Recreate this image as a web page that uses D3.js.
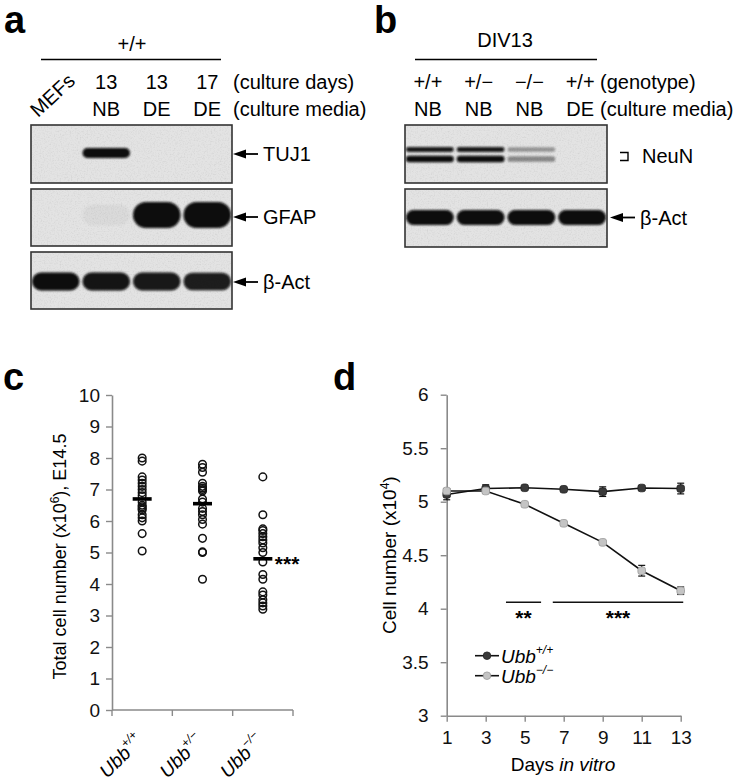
<!DOCTYPE html>
<html>
<head>
<meta charset="utf-8">
<script src="https://cdn.jsdelivr.net/npm/d3@7"></script>
<style>
  body { margin: 0; background: #fff; }
  svg { display: block; }
</style>
</head>
<body>
<script>
// ---- data ----
// panel a: western blot, band intensity per lane (0 = none, 1 = full)
const cultureDaysA = ["", "13", "13", "17"];
const cultureMediaA = ["", "NB", "DE", "DE"];
const tuj1 = [0, 1, 0, 0];
const gfap = [0, 0.04, 1, 1];
const actinA = [1, 0.97, 0.95, 0.93];

// panel b
const genotypeB = ["+/+", "+/\u2212", "\u2212/\u2212", "+/+"];
const mediaB = ["NB", "NB", "NB", "DE"];
const neunUpper = [0.95, 0.95, 0.35, 0];
const neunLower = [1, 1, 0.4, 0];
const actinB = [1, 1, 1, 1];

// panel c: total cell number (x10^6), E14.5
const genotypesC = ["+/+", "+/\u2212", "\u2212/\u2212"];
const cellsWT = [8.0, 7.9, 7.4, 7.3, 7.2, 7.1, 7.0, 6.9, 6.8, 6.6, 6.5, 6.45, 6.4, 6.35, 6.2, 6.1, 6.0, 5.6, 5.05];
const cellsHet = [7.8, 7.7, 7.55, 7.2, 7.1, 7.05, 7.0, 6.95, 6.7, 6.6, 6.4, 6.3, 6.2, 6.05, 5.9, 5.45, 5.02, 5.0, 4.15];
const cellsKO = [7.4, 6.2, 5.75, 5.7, 5.6, 5.5, 5.4, 5.3, 5.15, 5.0, 4.7, 4.3, 4.15, 3.75, 3.65, 3.5, 3.4, 3.3, 3.2];
const meansC = [6.7, 6.55, 4.8];
const yTicksC = [0, 1, 2, 3, 4, 5, 6, 7, 8, 9, 10];

// panel d: cell number (x10^4) over days in vitro
const days = [1, 3, 5, 7, 9, 11, 13];
const wtMean = [5.068, 5.123, 5.13, 5.116, 5.094, 5.128, 5.123];
const wtErr = [0.05, 0.035, 0.01, 0.01, 0.045, 0.02, 0.05];
const koMean = [5.10, 5.10, 4.976, 4.798, 4.62, 4.355, 4.168];
const koErr = [0.02, 0.02, 0.01, 0.015, 0.015, 0.05, 0.035];
const yTicksD = [3, 3.5, 4, 4.5, 5, 5.5, 6];
const sigD = [
  { from: 4.04, to: 5.84, label: "**" },
  { from: 6.44, to: 13.13, label: "***" }
];
const sigLevelD = 4.06;

// ---- drawing ----
const FONT = "'Liberation Sans', Arial, Helvetica, sans-serif";
const W = 747, H = 781;
const LBL = '20px';   // blot labels
const TICK = '19px';

const svg = d3.select('body').append('svg')
  .attr('width', W)
  .attr('height', H)
  .style('font-family', FONT);

svg.append('rect').attr('width', W).attr('height', H).attr('fill', '#fff');

const defs = svg.append('defs');
defs.append('filter').attr('id', 'blur')
  .attr('x', '-20%').attr('y', '-60%').attr('width', '140%').attr('height', '220%')
  .append('feGaussianBlur').attr('stdDeviation', 1.1);

const grain = defs.append('filter').attr('id', 'grain')
  .attr('x', 0).attr('y', 0).attr('width', '100%').attr('height', '100%');
grain.append('feTurbulence')
  .attr('type', 'fractalNoise').attr('baseFrequency', 0.7)
  .attr('numOctaves', 2).attr('seed', 4);
grain.append('feColorMatrix').attr('type', 'matrix')
  .attr('values', '0 0 0 0 0.45  0 0 0 0 0.45  0 0 0 0 0.45  0 0 0 -1.4 0.75');

// panel letters
[["a", 4, 33], ["b", 374, 33], ["c", 3, 390], ["d", 333, 390]].forEach(([t, x, y]) => {
  svg.append('text').attr('x', x).attr('y', y)
    .style('font-size', '38px').style('font-weight', 'bold')
    .text(t);
});

function drawBlot(g, x, w, y, h, rows) {
  const lanes = d3.scaleBand().domain(d3.range(4)).range([x, x + w]).paddingInner(0.02);
  g.append('rect').attr('x', x).attr('y', y).attr('width', w).attr('height', h)
    .attr('fill', '#e3e3e3');
  g.append('rect').attr('x', x).attr('y', y).attr('width', w).attr('height', h)
    .attr('filter', 'url(#grain)').attr('opacity', 0.5);
  rows.forEach(r => {
    g.append('g').attr('filter', 'url(#blur)')
      .selectAll('rect')
      .data(r.values.map((v, i) => ({ v, i })).filter(d => d.v > 0))
      .join('rect')
      .attr('x', d => lanes(d.i) + 1)
      .attr('width', lanes.bandwidth() - 2)
      .attr('y', d => r.cy - r.thick * (0.8 + 0.2 * d.v) / 2)
      .attr('height', d => r.thick * (0.8 + 0.2 * d.v))
      .attr('rx', d => r.thick * (0.8 + 0.2 * d.v) / 2)
      .attr('fill', '#080808')
      .attr('opacity', d => d.v);
  });
  g.append('rect').attr('x', x).attr('y', y).attr('width', w).attr('height', h)
    .attr('fill', 'none').attr('stroke', '#333').attr('stroke-width', 1.6);
  return lanes;
}

function arrowLabel(g, x, y, label) {
  g.append('line').attr('x1', x + 8).attr('x2', x + 25).attr('y1', y).attr('y2', y)
    .attr('stroke', '#000').attr('stroke-width', 1.8);
  g.append('path').attr('d', `M${x},${y}L${x + 13},${y - 4.5}L${x + 13},${y + 4.5}Z`).attr('fill', '#000');
  g.append('text').attr('x', x + 30).attr('y', y + 7)
    .style('font-size', LBL).text(label);
}

// ---- panel a ----
const gA = svg.append('g');
gA.append('text').attr('x', 132).attr('y', 51).attr('text-anchor', 'middle')
  .style('font-size', LBL).text('+/+');
gA.append('line').attr('x1', 41).attr('x2', 221).attr('y1', 59.5).attr('y2', 59.5)
  .attr('stroke', '#000').attr('stroke-width', 1.6);

const lanesA = drawBlot(gA, 31, 201, 125, 58, [{ values: tuj1, cy: 153, thick: 10 }]);
drawBlot(gA, 31, 201, 189, 57, [{ values: gfap, cy: 215, thick: 26 }]);
drawBlot(gA, 31, 201, 252, 57, [{ values: actinA, cy: 281.5, thick: 18 }]);

gA.selectAll('.days').data(cultureDaysA).join('text')
  .attr('x', (d, i) => lanesA(i) + lanesA.bandwidth() / 2)
  .attr('y', 89).attr('text-anchor', 'middle')
  .style('font-size', LBL).text(d => d);
gA.selectAll('.media').data(cultureMediaA).join('text')
  .attr('x', (d, i) => lanesA(i) + lanesA.bandwidth() / 2)
  .attr('y', 116).attr('text-anchor', 'middle')
  .style('font-size', LBL).text(d => d);
gA.append('text').attr('transform', 'translate(38,118) rotate(-43)')
  .style('font-size', LBL).text('MEFs');
gA.append('text').attr('x', 233).attr('y', 89).style('font-size', LBL).text('(culture days)');
gA.append('text').attr('x', 233).attr('y', 116).style('font-size', LBL).text('(culture media)');

arrowLabel(gA, 233, 154, 'TUJ1');
arrowLabel(gA, 233, 217, 'GFAP');
arrowLabel(gA, 233, 282, '\u03b2-Act');

// ---- panel b ----
const gB = svg.append('g');
gB.append('text').attr('x', 505).attr('y', 47).attr('text-anchor', 'middle')
  .style('font-size', LBL).text('DIV13');
gB.append('line').attr('x1', 415).attr('x2', 597).attr('y1', 59.5).attr('y2', 59.5)
  .attr('stroke', '#000').attr('stroke-width', 1.6);

const lanesB = drawBlot(gB, 405, 202, 125, 58, [
  { values: neunUpper, cy: 149.5, thick: 5 },
  { values: neunLower, cy: 159, thick: 6.5 }
]);
drawBlot(gB, 405, 202, 189, 58, [{ values: actinB, cy: 217.5, thick: 15 }]);

gB.selectAll('.geno').data(genotypeB).join('text')
  .attr('x', (d, i) => lanesB(i) + lanesB.bandwidth() / 2 - 2)
  .attr('y', 89).attr('text-anchor', 'middle')
  .style('font-size', LBL).text(d => d);
gB.selectAll('.mediaB').data(mediaB).join('text')
  .attr('x', (d, i) => lanesB(i) + lanesB.bandwidth() / 2 - 2)
  .attr('y', 116).attr('text-anchor', 'middle')
  .style('font-size', LBL).text(d => d);
gB.append('text').attr('x', 600).attr('y', 89).style('font-size', LBL).text('(genotype)');
gB.append('text').attr('x', 600).attr('y', 116).style('font-size', LBL).text('(culture media)');

gB.append('path').attr('d', 'M620,152.5H628V160.5H620')
  .attr('fill', 'none').attr('stroke', '#000').attr('stroke-width', 1.4);
gB.append('text').attr('x', 642).attr('y', 163).style('font-size', LBL).text('NeuN');
arrowLabel(gB, 610, 217.5, '\u03b2-Act');

// ---- panel c ----
const gC = svg.append('g');
const xC = d3.scaleBand().domain(genotypesC).range([112, 293]);
const yC = d3.scaleLinear().domain([0, 10]).range([710, 395]);
const axisGray = '#8a8a8a';

const yAxisC = gC.append('g').attr('transform', 'translate(112,0)')
  .call(d3.axisLeft(yC).tickValues(yTicksC).tickSize(6).tickPadding(6).tickSizeOuter(0));
yAxisC.select('.domain').attr('stroke', axisGray).attr('stroke-width', 1.6);
yAxisC.selectAll('.tick line').attr('stroke', axisGray).attr('stroke-width', 1.4);
yAxisC.selectAll('.tick text').style('font-size', TICK).style('font-family', FONT).attr('fill', '#111');

gC.append('line').attr('x1', 112).attr('x2', 293).attr('y1', 710).attr('y2', 710)
  .attr('stroke', axisGray).attr('stroke-width', 1.6);
gC.selectAll('.xtick').data([...genotypesC.map(g => xC(g)), 293]).join('line')
  .attr('x1', d => d).attr('x2', d => d).attr('y1', 710).attr('y2', 716)
  .attr('stroke', axisGray).attr('stroke-width', 1.4);

const labelC = gC.selectAll('.xlab').data(genotypesC).join('text')
  .attr('transform', d => `translate(${xC(d) + xC.bandwidth() / 2 + 2},742) rotate(-45)`)
  .attr('text-anchor', 'end')
  .style('font-size', TICK);
labelC.append('tspan').style('font-style', 'italic').text('Ubb');
labelC.append('tspan').attr('dy', -9).style('font-size', '12px').style('font-style', 'italic').text(d => d);

gC.append('text')
  .attr('transform', `translate(66,${(yC(0) + yC(10)) / 2 + 4}) rotate(-90)`)
  .attr('text-anchor', 'middle').style('font-size', '18px')
  .call(t => {
    t.append('tspan').text('Total cell number (x10');
    t.append('tspan').attr('dy', -7).style('font-size', '12px').text('6');
    t.append('tspan').attr('dy', 7).text('), E14.5');
  });

const groupsC = [cellsWT, cellsHet, cellsKO];
groupsC.forEach((vals, gi) => {
  const cx = xC(genotypesC[gi]) + xC.bandwidth() / 2;
  gC.append('g').selectAll('circle').data(vals).join('circle')
    .attr('cx', cx).attr('cy', d => yC(d)).attr('r', 3.8)
    .attr('fill', 'none').attr('stroke', '#111').attr('stroke-width', 1.5);
});
gC.selectAll('.mean').data(meansC).join('line')
  .attr('x1', (d, i) => xC(genotypesC[i]) + xC.bandwidth() / 2 - 9.5)
  .attr('x2', (d, i) => xC(genotypesC[i]) + xC.bandwidth() / 2 + 9.5)
  .attr('y1', d => yC(d)).attr('y2', d => yC(d))
  .attr('stroke', '#000').attr('stroke-width', 3.6);
gC.append('text')
  .attr('x', xC(genotypesC[2]) + xC.bandwidth() / 2 + 12)
  .attr('y', yC(meansC[2]) + 12)
  .style('font-size', '21px').style('font-weight', 'bold').text('***');

// ---- panel d ----
const gD = svg.append('g');
const xD = d3.scaleLinear().domain([1, 13]).range([446.7, 680.7]);
const yD = d3.scaleLinear().domain([3, 6]).range([715.7, 394.7]);

const yAxisD = gD.append('g').attr('transform', 'translate(446.7,0)')
  .call(d3.axisLeft(yD).tickValues(yTicksD).tickSize(6).tickPadding(12).tickSizeOuter(0).tickFormat(d3.format('~g')));
const xAxisD = gD.append('g').attr('transform', 'translate(0,715.7)')
  .call(d3.axisBottom(xD).tickValues(days).tickSize(6).tickPadding(9).tickSizeOuter(0).tickFormat(d3.format('d')));
[yAxisD, xAxisD].forEach(ax => {
  ax.select('.domain').attr('stroke', axisGray).attr('stroke-width', 1.6);
  ax.selectAll('.tick line').attr('stroke', axisGray).attr('stroke-width', 1.4);
  ax.selectAll('.tick text').style('font-size', TICK).style('font-family', FONT).attr('fill', '#111');
});

gD.append('text')
  .attr('transform', `translate(396,${(yD(3) + yD(6)) / 2}) rotate(-90)`)
  .attr('text-anchor', 'middle').style('font-size', '19px')
  .call(t => {
    t.append('tspan').text('Cell number (x10');
    t.append('tspan').attr('dy', -7).style('font-size', '12px').text('4');
    t.append('tspan').attr('dy', 7).text(')');
  });
gD.append('text').attr('x', 563).attr('y', 771).attr('text-anchor', 'middle')
  .style('font-size', '19px')
  .call(t => {
    t.append('tspan').text('Days ');
    t.append('tspan').style('font-style', 'italic').text('in vitro');
  });

const lineD = d3.line().x(d => xD(d.day)).y(d => yD(d.mean));
const seriesD = [
  { key: '+/+', rows: days.map((day, i) => ({ day, mean: wtMean[i], err: wtErr[i] })), fill: '#3a3a3a', stroke: '#222' },
  { key: '\u2212/\u2212', rows: days.map((day, i) => ({ day, mean: koMean[i], err: koErr[i] })), fill: '#c4c4c4', stroke: '#9a9a9a' }
];

seriesD.forEach(s => {
  gD.append('path').datum(s.rows).attr('d', lineD)
    .attr('fill', 'none').attr('stroke', '#111').attr('stroke-width', 1.6);
});
seriesD.forEach(s => {
  const eb = gD.append('g').selectAll('g').data(s.rows).join('g');
  eb.append('line')
    .attr('x1', d => xD(d.day)).attr('x2', d => xD(d.day))
    .attr('y1', d => yD(d.mean - d.err)).attr('y2', d => yD(d.mean + d.err))
    .attr('stroke', '#111').attr('stroke-width', 1.2);
  ['-', '+'].forEach(sign => {
    eb.append('line')
      .attr('x1', d => xD(d.day) - 3.5).attr('x2', d => xD(d.day) + 3.5)
      .attr('y1', d => yD(sign === '-' ? d.mean - d.err : d.mean + d.err))
      .attr('y2', d => yD(sign === '-' ? d.mean - d.err : d.mean + d.err))
      .attr('stroke', '#111').attr('stroke-width', 1.2);
  });
  gD.append('g').selectAll('rect').data(s.rows).join('rect')
    .attr('x', d => xD(d.day) - 3.8).attr('y', d => yD(d.mean) - 3.8)
    .attr('width', 7.6).attr('height', 7.6).attr('rx', 2.5)
    .attr('fill', s.fill).attr('stroke', s.stroke).attr('stroke-width', 0.8);
});

sigD.forEach(s => {
  gD.append('line').attr('x1', xD(s.from)).attr('x2', xD(s.to))
    .attr('y1', yD(sigLevelD)).attr('y2', yD(sigLevelD))
    .attr('stroke', '#111').attr('stroke-width', 1.6);
  gD.append('text').attr('x', (xD(s.from) + xD(s.to)) / 2).attr('y', yD(sigLevelD) + 23)
    .attr('text-anchor', 'middle')
    .style('font-size', '21px').style('font-weight', 'bold').text(s.label);
});

// legend
const legend = gD.append('g').selectAll('g').data(seriesD).join('g')
  .attr('transform', (d, i) => `translate(475,${655.7 + i * 20})`);
legend.append('line').attr('x1', 0).attr('x2', 24).attr('stroke', '#111').attr('stroke-width', 1.6);
legend.append('circle').attr('cx', 12).attr('r', 3.8)
  .attr('fill', d => d.fill).attr('stroke', d => d.stroke).attr('stroke-width', 0.8);
const legText = legend.append('text').attr('x', 26).attr('y', 7).style('font-size', TICK);
legText.append('tspan').style('font-style', 'italic').text('Ubb');
legText.append('tspan').attr('dy', -9).style('font-size', '12px').style('font-style', 'italic').text(d => d.key);
</script>
</body>
</html>
